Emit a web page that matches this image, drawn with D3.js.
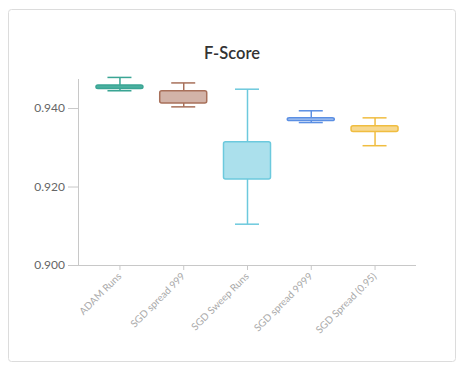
<!DOCTYPE html>
<meta charset="utf-8">
<style>
body { margin: 0; background: #fff; }
.card { fill: #fff; stroke: #dcdcdc; }
.title { font: 600 16.5px Lato, "Open Sans", sans-serif; fill: #333; }
.y-axis text { font: 12px Lato, sans-serif; fill: #666; }
.x-axis text { font: 10px Lato, sans-serif; fill: #aaa; }
.domain, .tick line { stroke: #c8c8c8; }
</style>
<body>
<svg width="464" height="371"></svg>
<script src="https://cdn.jsdelivr.net/npm/d3@7"></script>
<script>

let categories = ['ADAM Runs', 'SGD spread 999', 'SGD Sweep Runs', 'SGD spread 9999', 'SGD Spread (0.95)'];
let mins = [0.9444, 0.9403, 0.9104, 0.9363, 0.9304];
let q1s = [0.9450, 0.9413, 0.9219, 0.9368, 0.9340];
let q3s = [0.9459, 0.9444, 0.9314, 0.9375, 0.9355];
let maxs = [0.9478, 0.9464, 0.9448, 0.9393, 0.9375];
let strokes = ['#3aa594', '#a8705a', '#6cc9dd', '#5b8fe3', '#f0bd40'];
let fills = ['#4bb0a0', '#d2b3a8', '#abe0ec', '#a9c4f0', '#f7d88f'];
let yTicks = [0.90, 0.92, 0.94];

let svg = d3.select('svg');

svg.append('rect').attr('class', 'card')
  .attr('x', 8.5).attr('y', 9.5).attr('width', 447).attr('height', 352).attr('rx', 3);

svg.append('text').attr('class', 'title')
  .attr('x', 232).attr('y', 59).attr('text-anchor', 'middle').text('F-Score');

let x = d3.scalePoint().domain(categories).range([78, 416]).padding(0.65);
let y = d3.scaleLinear().domain([0.9, 0.9474]).range([265, 79]);

// y axis
let gy = svg.append('g').attr('class', 'y-axis').attr('transform', 'translate(78,0)')
  .call(d3.axisLeft(y).tickValues(yTicks).tickFormat(d3.format('.3f')).tickSize(10).tickPadding(3));
gy.select('.domain').attr('d', 'M0.5,' + y.range()[1] + 'V' + (y.range()[0] + 0.5));

// x axis
let gx = svg.append('g').attr('class', 'x-axis').attr('transform', 'translate(0,265)')
  .call(d3.axisBottom(x).tickSize(5));
gx.select('.domain').attr('d', 'M78,0.5H416').attr('stroke', '#ddd');
gx.selectAll('text')
  .attr('text-anchor', 'end')
  .attr('dy', null)
  .attr('y', 0)
  .attr('transform', 'translate(2,12) rotate(-45)');

let data = categories.map((c, i) => ({
  c, min: mins[i], q1: q1s[i], q3: q3s[i], max: maxs[i], s: strokes[i], f: fills[i]
}));

let boxW = 47, capW = 24;
let g = svg.append('g').selectAll('g').data(data).join('g')
  .attr('transform', d => 'translate(' + x(d.c) + ',0)');

g.append('line')
  .attr('x1', 0.5).attr('x2', 0.5)
  .attr('y1', d => y(d.max)).attr('y2', d => y(d.min))
  .attr('stroke', d => d.s).attr('stroke-width', 1.5);

g.selectAll('.cap').data(d => [[d.max, d], [d.min, d]]).join('line')
  .attr('class', 'cap')
  .attr('x1', -capW / 2).attr('x2', capW / 2)
  .attr('y1', d => y(d[0])).attr('y2', d => y(d[0]))
  .attr('stroke', d => d[1].s).attr('stroke-width', 1.5);

g.append('rect')
  .attr('x', -boxW / 2).attr('width', boxW)
  .attr('y', d => y(d.q3))
  .attr('height', d => Math.max(y(d.q1) - y(d.q3), 2))
  .attr('rx', 2)
  .attr('fill', d => d.f).attr('stroke', d => d.s).attr('stroke-width', 1.5);

</script>
</body>
